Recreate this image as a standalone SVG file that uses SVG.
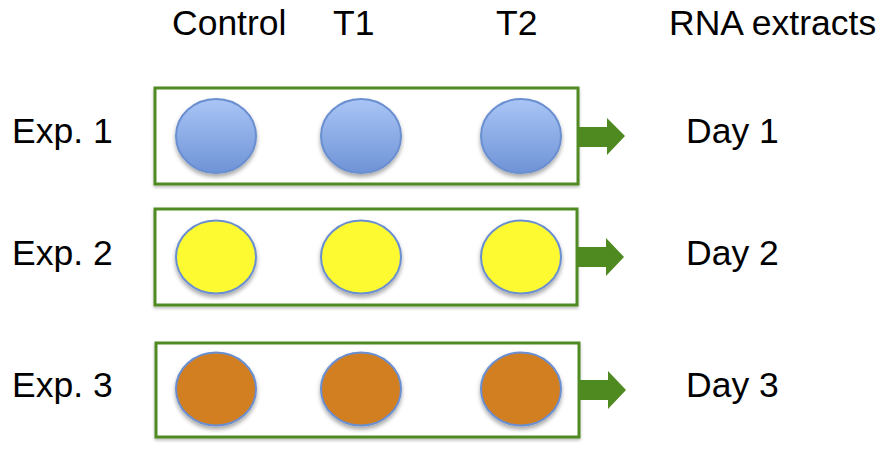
<svg xmlns="http://www.w3.org/2000/svg" width="888" height="450" viewBox="0 0 888 450">
<defs>
<linearGradient id="blueGrad" x1="0" y1="0" x2="0" y2="1">
<stop offset="0" stop-color="#aac5f6"/>
<stop offset="1" stop-color="#6e93d6"/>
</linearGradient>
<filter id="shadow" x="-20%" y="-20%" width="140%" height="150%">
<feDropShadow dx="0" dy="3" stdDeviation="2" flood-color="#000" flood-opacity="0.35"/>
</filter>
<filter id="boxShadow" x="-5%" y="-10%" width="110%" height="125%">
<feDropShadow dx="0" dy="2" stdDeviation="1.5" flood-color="#000" flood-opacity="0.25"/>
</filter>
</defs>
<style>
text { font-family: "Liberation Sans", Arial, sans-serif; font-size: 35.5px; fill: #000; }
.box { fill: #fff; stroke: #4f8a20; stroke-width: 3; }
.c { stroke: #6b8fd0; stroke-width: 2; filter: url(#shadow); }
.blue { fill: url(#blueGrad); }
.yellow { fill: #fdfa33; }
.orange { fill: #d27f22; }
.arrow { fill: #4f8a20; }
</style>
<g id="headers">
<text x="172" y="35">Control</text>
<text x="333" y="35">T1</text>
<text x="496" y="35">T2</text>
<text x="669" y="35">RNA extracts</text>
</g>
<g id="exp1">
<text x="12" y="143">Exp. 1</text>
<rect class="box" x="155" y="88" width="423" height="96" filter="url(#boxShadow)"/>
<ellipse class="c blue" cx="216" cy="136" rx="40" ry="37"/>
<ellipse class="c blue" cx="361" cy="136" rx="40" ry="37"/>
<ellipse class="c blue" cx="521" cy="136" rx="40" ry="37"/>
</g>
<g id="exp2">
<text x="12" y="265">Exp. 2</text>
<rect class="box" x="155" y="209" width="422" height="96" filter="url(#boxShadow)"/>
<ellipse class="c yellow" cx="216" cy="257" rx="40" ry="36.5"/>
<ellipse class="c yellow" cx="361" cy="257" rx="40" ry="36.5"/>
<ellipse class="c yellow" cx="521" cy="257" rx="40" ry="36.5"/>
</g>
<g id="exp3">
<text x="12" y="397">Exp. 3</text>
<rect class="box" x="156" y="343" width="423" height="94" filter="url(#boxShadow)"/>
<ellipse class="c orange" cx="216" cy="389" rx="40" ry="36.5"/>
<ellipse class="c orange" cx="361" cy="389" rx="40" ry="36.5"/>
<ellipse class="c orange" cx="521" cy="389" rx="40" ry="36.5"/>
</g>
<g id="connectors">
<polygon class="arrow" points="578,127 607,127 607,118 625,136 607,155 607,147 578,147"/>
<polygon class="arrow" points="577,247 606,247 606,238 624,257 606,276 606,267 577,267"/>
<polygon class="arrow" points="579,380 608,380 608,371 626,390 608,409 608,400 579,400"/>
</g>
<g id="days">
<text x="686" y="143">Day 1</text>
<text x="686" y="265">Day 2</text>
<text x="686" y="397">Day 3</text>
</g>
</svg>
